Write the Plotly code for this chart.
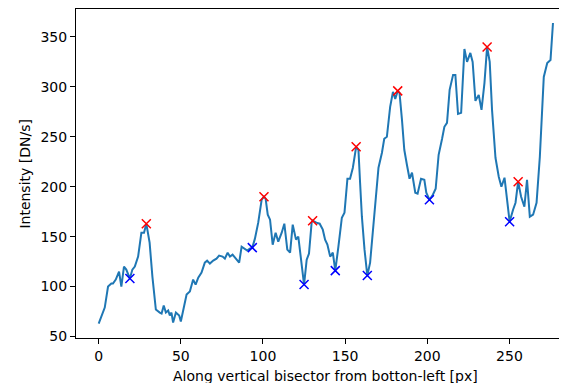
import plotly.graph_objects as go

# Profile (position along bisector, intensity)
pos = [0, 3.7, 5.7, 7.7, 8.7, 10.4, 12.4, 13.8, 15.4, 16.8, 19, 20.5, 22, 24, 26, 27.6, 29, 31, 32.7,
       34.8, 37.2, 38.3, 39.6, 40.9, 42.3, 43.3, 44.3, 45.3, 47, 49, 50, 51.4, 53.5, 55.5, 57.5, 59,
       60.6, 62.6, 64.6, 66, 67.7, 69.7, 71.7, 73.3, 75.4, 76.8, 78.5, 79.9, 81.5, 83.5, 85.5, 87,
       88.4, 90.4, 92, 93.5, 95.1, 97.1, 99.2, 100.6, 101.6, 102.9, 104.3, 105.9, 107.7, 109.3,
       111.4, 113, 114.8, 116.5, 118.1, 120.1, 121.5, 123.2, 125, 126.6, 128, 129.6, 130.2, 132.5,
       134.5, 136.4, 137.8, 139.2, 140.9, 142.5, 144, 145.9, 148, 149.6, 151.4, 153, 154.7, 156.7,
       158.1, 159.1, 160.2, 161.8, 163.5, 165.2, 167.3, 168.9, 170.3, 172.4, 173.8, 175.4, 177.4,
       179.1, 180.5, 182, 183.1, 184.6, 186, 187.6, 189.2, 190.7, 192.7, 194.1, 196.2, 198.2, 199.4,
       201.3, 203.4, 205.1, 206.9, 209, 210.4, 212, 213.6, 215.7, 217.1, 218.7, 220.6, 222.6, 224.2,
       226.2, 227.6, 229.3, 231.3, 233, 234.8, 236.4, 238, 239.4, 241.5, 243.5, 245.1, 247, 248.6,
       250.1, 252.2, 253.7, 255.3, 257.1, 259.1, 260.7, 262.4, 264.4, 266.5, 268.5, 270.9, 273, 275,
       276.5]
intensity = [63, 79, 100, 103, 103, 107, 115, 100, 120, 117, 108, 117, 120, 130, 154, 154, 163, 144, 110,
             77, 74, 73, 81, 74, 76, 71, 74, 64, 74, 71, 65, 77, 92, 95, 107, 102,
             109, 114, 124, 126, 123, 126, 128, 131, 130, 128, 134, 130, 132, 128, 124, 140,
             138, 136, 138, 139, 148, 164, 187, 190, 188, 172, 167, 142, 154, 145,
             154, 163, 137, 134, 162, 147, 150, 127, 102, 127, 133, 164, 166, 164,
             163, 157, 147, 142, 130, 134, 116, 140, 169, 174, 208, 208, 219, 240,
             237, 204, 170, 137, 111, 124, 160, 190, 219, 234, 248, 250, 280,
             295, 288, 296, 294, 267, 237, 222, 208, 214, 194, 193, 208, 207, 194,
             187, 192, 198, 232, 248, 260, 264, 297, 312, 312, 273, 274, 338, 325,
             334, 325, 286, 292, 277, 304, 340, 325, 277, 229, 210, 200, 209, 184,
             165, 177, 184, 205, 190, 180, 207, 170, 172, 184, 230, 310, 324, 327,
             364]

peak_pos = [29, 100.6, 130.2, 156.7, 182, 236.4, 255.3]
peak_val = [163, 190, 166, 240, 296, 340, 205]
valley_pos = [19, 93.5, 125, 144, 163.5, 201.3, 250.1]
valley_val = [108, 139, 102, 116, 111, 187, 165]

x_ticks = [0, 50, 100, 150, 200, 250]
y_ticks = [50, 100, 150, 200, 250, 300, 350]

fig = go.Figure()
fig.add_trace(go.Scatter(x=pos, y=intensity, mode="lines",
                         line=dict(color="#1f77b4", width=2), showlegend=False))
fig.add_trace(go.Scatter(x=peak_pos, y=peak_val, mode="markers",
                         marker=dict(symbol="x-thin", size=9, line=dict(color="red", width=1.5)),
                         showlegend=False))
fig.add_trace(go.Scatter(x=valley_pos, y=valley_val, mode="markers",
                         marker=dict(symbol="x-thin", size=9, line=dict(color="blue", width=1.5)),
                         showlegend=False))

font = dict(family="DejaVu Sans", size=14, color="black")
fig.update_layout(
    width=567, height=383,
    margin=dict(l=68, r=0, t=1, b=53, autoexpand=False),
    plot_bgcolor="white", paper_bgcolor="white",
    font=font,
    xaxis=dict(range=[-13.8, 289.9], tickvals=x_ticks, ticks="outside", ticklen=5, tickwidth=1,
               tickcolor="black", showline=True, linecolor="black", linewidth=1, mirror=True,
               showgrid=False, zeroline=False, tickfont=font, automargin=False),
    yaxis=dict(range=[48.5, 378], tickvals=y_ticks, ticks="outside", ticklen=5, tickwidth=1,
               tickcolor="black", showline=True, linecolor="black", linewidth=1, mirror=False,
               showgrid=False, zeroline=False, tickfont=font, automargin=False),
    annotations=[
        dict(text="Along vertical bisector from botton-left [px]", xref="paper", yref="paper",
             x=0.499, y=-0.115, xanchor="center", yanchor="middle", showarrow=False, font=font),
        dict(text="Intensity [DN/s]", xref="paper", yref="paper", x=-0.104, y=0.5,
             xanchor="center", yanchor="middle", textangle=-90, showarrow=False, font=font),
    ],
)

fig.write_html("out.html")
